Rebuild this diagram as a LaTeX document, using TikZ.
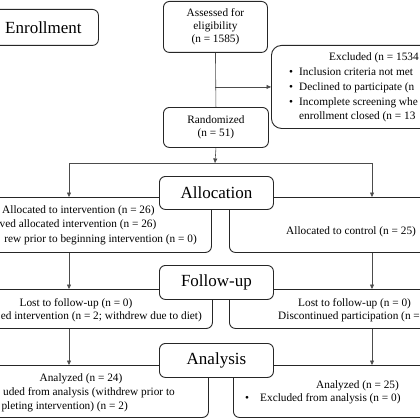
\documentclass[tikz,border=0pt]{standalone}
\usepackage{fontspec}
\setmainfont{Liberation Serif}
\usetikzlibrary{arrows.meta,calc}
\begin{document}
\begin{tikzpicture}[x=1pt,y=-1pt,
  box/.style={draw=black!85, line width=0.9pt, rounded corners=6pt, fill=white, inner sep=0pt, anchor=north west, align=center},
  big/.style={font=\fontsize{17}{20}\selectfont},
  small/.style={font=\fontsize{11.3}{13.5}\selectfont},
  txt/.style={small, inner sep=0pt, text height=8pt, text depth=2.5pt},
  conn/.style={draw=black!70, line width=0.6pt},
  arr/.style={conn, -{Triangle[length=4.5pt,width=4pt]}}]
\useasboundingbox (0,0) rectangle (420,420);

% side boxes
\node[box, minimum width=110pt, minimum height=36pt, big] (enroll) at (-12,9) {Enrollment};
\node[box, rounded corners=10pt, minimum width=189pt, minimum height=83pt] (excl) at (271,45) {};
\node[box, minimum width=280pt, minimum height=55pt] (allocI) at (-69,197) {};
\node[box, minimum width=221pt, minimum height=55pt] (allocC) at (229,197) {};
\node[box, minimum width=281pt, minimum height=39pt] (fuI) at (-69,289) {};
\node[box, minimum width=221pt, minimum height=39pt] (fuC) at (229,289) {};
\node[box, minimum width=277pt, minimum height=52pt] (anaI) at (-69,365) {};
\node[box, minimum width=217pt, minimum height=52pt] (anaC) at (233,365) {};

% centre boxes
\node[box, minimum width=104pt, minimum height=51pt, font=\fontsize{11.3}{13}\selectfont] (assess) at (163,1) {Assessed for\\eligibility\\(n = 1585)};
\node[box, minimum width=105pt, minimum height=40pt, font=\fontsize{11.3}{13}\selectfont] (rand) at (163,107) {Randomized\\(n = 51)};
\node[box, minimum width=114pt, minimum height=33pt, big] (alloc) at (159,176) {Allocation};
\node[box, minimum width=114pt, minimum height=34pt, big] (fu) at (159,265) {Follow-up};
\node[box, minimum width=114pt, minimum height=34pt, big] (ana) at (159,343) {Analysis};

% texts
\node[txt, anchor=west] (exA) at (329,58) {Excluded (n = 1534};
\node[txt, anchor=west] (exB) at (289,73) {\makebox[10pt][l]{\textbullet}Inclusion criteria not met};
\node[txt, anchor=west] (exC) at (289,88) {\makebox[10pt][l]{\textbullet}Declined to participate (n};
\node[txt, anchor=west] (exD) at (289,103) {\makebox[10pt][l]{\textbullet}Incomplete screening whe};
\node[txt, anchor=west] (exE) at (299,117) {enrollment closed (n = 13};

\node[txt, anchor=west] (aI1) at (2,211) {Allocated to intervention (n = 26)};
\node[txt, anchor=east] (aI2) at (156.5,225) {ved allocated intervention (n = 26)};
\node[txt, anchor=east] (aI3) at (197,240) {rew prior to beginning intervention (n = 0)};
\node[txt, anchor=west] (aC1) at (286,232) {Allocated to control (n = 25)};

\node[txt] (fI1) at (76,304) {Lost to follow-up (n = 0)};
\node[txt, anchor=east] (fI2) at (202,317) {ed intervention (n = 2; withdrew due to diet)};
\node[txt, anchor=west] (fC1) at (298,304) {Lost to follow-up (n = 0)};
\node[txt, anchor=west] (fC2) at (278,317) {Discontinued participation (n =};

\node[txt] (nI1) at (81,379) {Analyzed (n = 24)};
\node[txt, anchor=east] (nI2) at (175,393) {uded from analysis (withdrew prior to};
\node[txt, anchor=east] (nI3) at (128,407) {pleting intervention) (n = 2)};
\node[txt, anchor=west] (nC1) at (316,386) {Analyzed (n = 25)};
\node[txt, anchor=west] (nC2) at (245,399) {\makebox[15pt][l]{\textbullet}Excluded from analysis (n = 0)};

% connectors
\draw[conn] (assess.south) -- (rand.north);
\draw[arr] (assess.south |- excl.west) -- (excl.west);
\coordinate (split) at (215,163);
\coordinate (lt) at (69,163);
\coordinate (rt) at (372,163);
\draw[arr] (rand.south) -- (split);
\draw[conn] (lt) -- (rt);
\draw[arr] (lt) -- (lt |- allocI.north);
\draw[arr] (rt) -- (rt |- allocC.north);
\draw[arr] (lt |- allocI.south) -- (lt |- fuI.north);
\draw[arr] (rt |- allocC.south) -- (rt |- fuC.north);
\draw[arr] (lt |- fuI.south) -- (lt |- anaI.north);
\draw[arr] (rt |- fuC.south) -- (rt |- anaC.north);
\end{tikzpicture}
\end{document}
